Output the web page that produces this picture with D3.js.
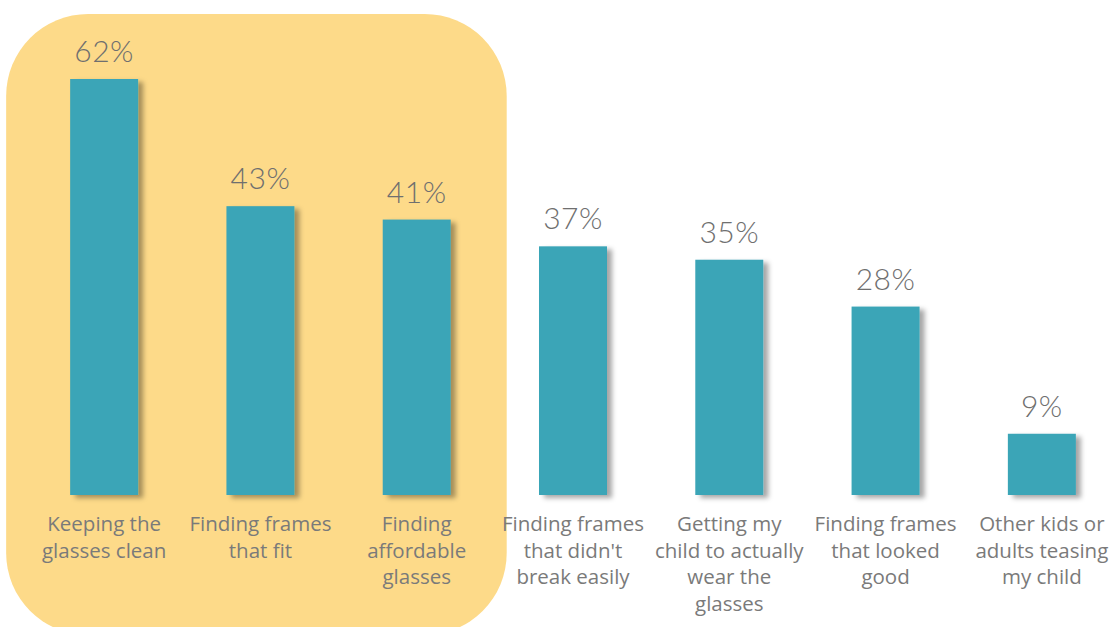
<!DOCTYPE html>
<html><head><meta charset="utf-8">
<script src="https://cdn.jsdelivr.net/npm/d3@7"></script>
<style>
html,body{margin:0;padding:0;background:#fff;}
svg{display:block;}
</style></head>
<body><svg id="chart" width="1111" height="627"></svg>
<script>
const categories = [
  "Keeping the\nglasses clean",
  "Finding frames\nthat fit",
  "Finding\naffordable\nglasses",
  "Finding frames\nthat didn't\nbreak easily",
  "Getting my\nchild to actually\nwear the\nglasses",
  "Finding frames\nthat looked\ngood",
  "Other kids or\nadults teasing\nmy child"
];
const values = [62, 43, 41, 37, 35, 28, 9];
const valueLabels = ["62%", "43%", "41%", "37%", "35%", "28%", "9%"];
const highlighted = [0, 1, 2];

const W = 1111, H = 627;
const svg = d3.select("#chart");

const x = d3.scaleBand().domain(categories).range([26, 1120]).paddingInner(0.565).paddingOuter(0.2825);
const y = d3.scaleLinear().domain([0, 62]).range([494, 79]);

const defs = svg.append("defs");
const f = defs.append("filter").attr("id","shadow").attr("x","-20%").attr("y","-20%").attr("width","150%").attr("height","150%");
f.append("feDropShadow").attr("dx",5).attr("dy",3).attr("stdDeviation",2.5).attr("flood-color","#000").attr("flood-opacity",0.35);

// highlight box
const hx0 = x(categories[highlighted[0]]) - 64, hx1 = x(categories[highlighted[highlighted.length-1]]) + x.bandwidth() + 56;
svg.append("rect").attr("x", hx0).attr("y", 14).attr("width", hx1 - hx0).attr("height", 621)
  .attr("rx", 82).attr("ry", 82).attr("fill", "#FDDA89");

svg.append("g").selectAll("rect").data(values).join("rect")
  .attr("x", (d,i) => x(categories[i]))
  .attr("y", d => y(d))
  .attr("width", x.bandwidth())
  .attr("height", d => y(0) - y(d) + 1)
  .attr("fill", "#3AA5B7")
  .attr("filter", "url(#shadow)");

svg.append("g").selectAll("text").data(values).join("text")
  .attr("x", (d,i) => x(categories[i]) + x.bandwidth()/2)
  .attr("y", d => y(d) - 17)
  .attr("text-anchor", "middle")
  .attr("font-family", "Lato, 'Open Sans', sans-serif")
  .attr("font-weight", 300)
  .attr("font-size", 30)
  .attr("letter-spacing", 0.5)
  .attr("fill", "#6f6f6f")
  .text((d,i) => valueLabels[i]);

const lab = svg.append("g").selectAll("text").data(categories).join("text")
  .attr("x", d => x(d) + x.bandwidth()/2)
  .attr("y", 531)
  .attr("text-anchor", "middle")
  .attr("font-family", "'Open Sans', Lato, sans-serif")
  .attr("font-size", 20.5)
  .attr("fill", "#7a7a7a");
lab.each(function(d){
  const t = d3.select(this);
  d.split("\n").forEach((line, k) => {
    t.append("tspan").attr("x", x(d) + x.bandwidth()/2).attr("dy", k === 0 ? 0 : 26.5).text(line);
  });
});
</script></body></html>
